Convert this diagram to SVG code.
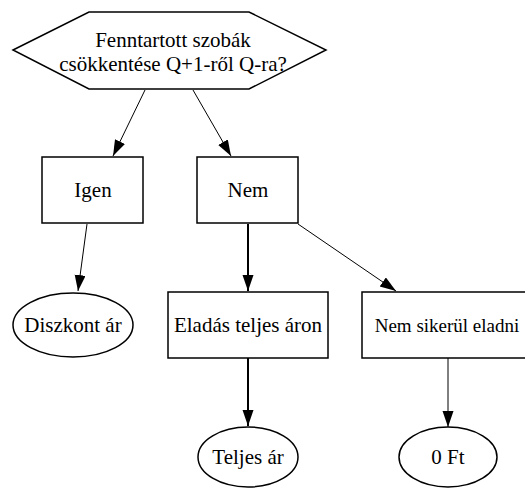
<svg xmlns="http://www.w3.org/2000/svg" width="525" height="489" viewBox="0 0 525 489">
<style>
.s{fill:#fff;stroke:#000;stroke-width:1.5}
.t{font-family:"Liberation Serif","Times New Roman",serif;font-size:21px;fill:#000;text-anchor:middle}
.e{stroke:#000;fill:none;stroke-width:1}
.b{stroke-width:2}
</style>
<defs>
<marker id="ah" markerUnits="userSpaceOnUse" markerWidth="18" markerHeight="12" refX="16" refY="5.5" orient="auto">
<path d="M0,0 L16,5.5 L0,11 Z" fill="#000"/>
</marker>
</defs>
<rect width="525" height="489" fill="#fff"/>
<g id="edges">
<line class="e" x1="145" y1="90" x2="113" y2="156" marker-end="url(#ah)"/>
<line class="e" x1="193" y1="90" x2="231" y2="156" marker-end="url(#ah)"/>
<line class="e" x1="87" y1="224" x2="78" y2="291" marker-end="url(#ah)"/>
<line class="e b" x1="248" y1="224" x2="248" y2="291" marker-end="url(#ah)"/>
<line class="e" x1="298" y1="224" x2="396" y2="291" marker-end="url(#ah)"/>
<line class="e b" x1="248" y1="358" x2="248" y2="426" marker-end="url(#ah)"/>
<line class="e" x1="448" y1="358" x2="448" y2="427" marker-end="url(#ah)"/>
</g>
<g id="q">
<polygon class="s" points="13,50 89,12 249,12 326,50 249,89 89,89"/>
<text class="t" x="173" y="47">Fenntartott szobák</text>
<text class="t" x="173" y="71">csökkentése Q+1-ről Q-ra?</text>
</g>
<g id="igen">
<rect class="s" x="42" y="157" width="101" height="66"/>
<text class="t" x="93" y="197">Igen</text>
</g>
<g id="nem">
<rect class="s" x="197" y="157" width="101" height="66"/>
<text class="t" x="248" y="197">Nem</text>
</g>
<g id="diszkont">
<ellipse class="s" cx="73" cy="325" rx="60" ry="32"/>
<text class="t" x="73" y="332">Diszkont ár</text>
</g>
<g id="eladas">
<rect class="s" x="168" y="292" width="160" height="66"/>
<text class="t" x="248" y="332">Eladás teljes áron</text>
</g>
<g id="nemsikerul">
<rect class="s" x="362" y="292" width="172" height="66"/>
<text class="t" x="447" y="332" style="font-size:19px">Nem sikerül eladni</text>
</g>
<g id="teljes">
<ellipse class="s" cx="248" cy="457" rx="50" ry="30"/>
<text class="t" x="248" y="464">Teljes ár</text>
</g>
<g id="nullft">
<ellipse class="s" cx="448" cy="457" rx="49" ry="30"/>
<text class="t" x="448" y="464">0 Ft</text>
</g>
</svg>
